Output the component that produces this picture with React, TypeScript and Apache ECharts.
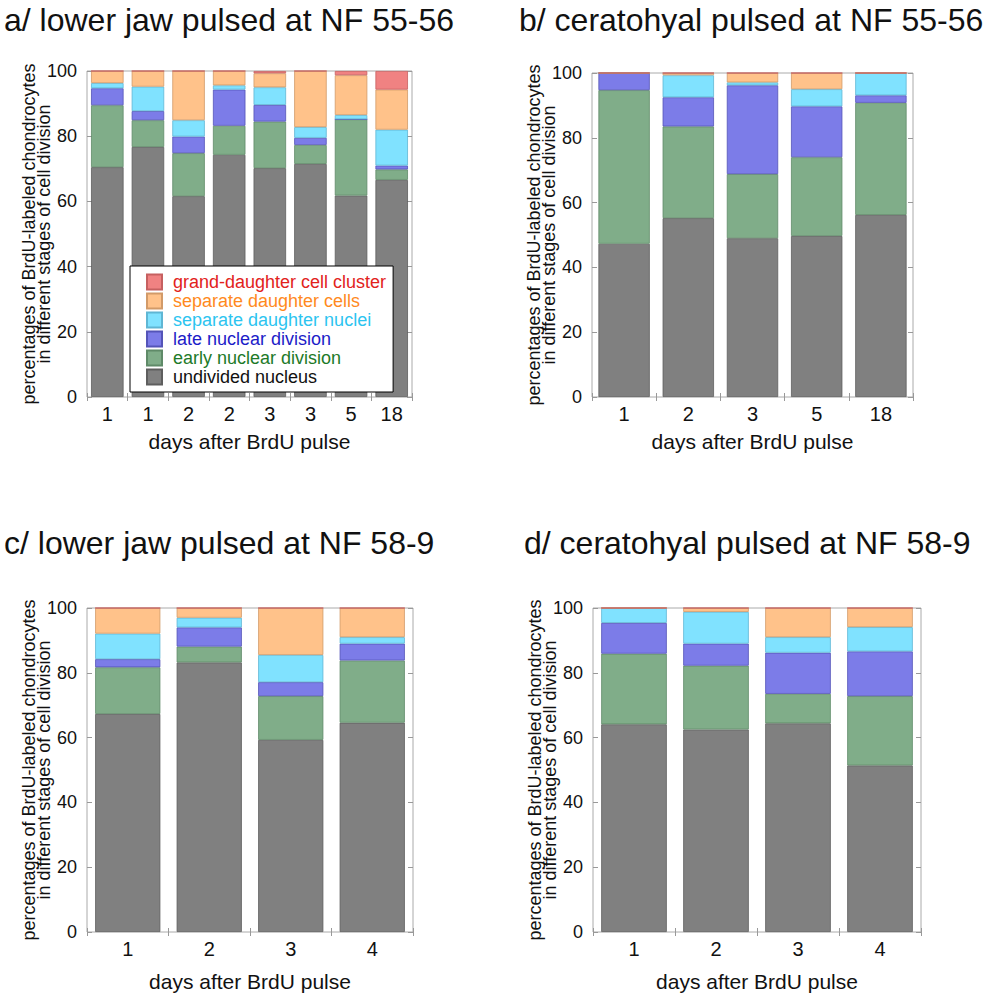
import React, { useEffect, useRef } from "react";
import * as echarts from "echarts";

const SERIES_NAMES = [
  "undivided nucleus",
  "early nuclear division",
  "late nuclear division",
  "separate daughter nuclei",
  "separate daughter cells",
  "grand-daughter cell cluster",
];
const COLORS = ["#808080", "#80ad89", "#7c7ce8", "#80e2ff", "#ffc28a", "#f08282"];
const BORDERS = ["#5e5e5e", "#5f8a68", "#5454b8", "#5fb6d4", "#d29a68", "#c66060"];
const LEGEND_TEXT = ["#111111", "#1d7a28", "#1c1cc8", "#2cc4f0", "#ff8a1e", "#e2221c"];

// Panel a: lower jaw pulsed at NF 55-56
const catsA = ["1", "1", "2", "2", "3", "3", "5", "18"];
const undividedA = [70.5, 76.7, 61.6, 74.3, 70.2, 71.5, 61.8, 66.6];
const earlyA = [19.0, 8.2, 13.2, 8.9, 14.3, 5.8, 23.4, 3.2];
const lateA = [5.2, 2.8, 5.1, 11.1, 5.1, 2.2, 0, 1.2];
const nucleiA = [1.6, 7.5, 5.0, 1.3, 5.4, 3.3, 1.3, 11.0];
const cellsA = [3.7, 4.8, 15.1, 4.4, 4.3, 17.2, 12.2, 12.3];
const clusterA = [0, 0, 0, 0, 0.7, 0, 1.3, 5.7];

// Panel b: ceratohyal pulsed at NF 55-56
const catsB = ["1", "2", "3", "5", "18"];
const undividedB = [47.3, 55.2, 49.0, 49.7, 56.2];
const earlyB = [47.4, 28.3, 19.8, 24.3, 34.6];
const lateB = [5.3, 9.0, 27.4, 15.7, 2.3];
const nucleiB = [0, 6.8, 0.9, 5.3, 6.9];
const cellsB = [0, 0.7, 2.9, 5.0, 0];
const clusterB = [0, 0, 0, 0, 0];

// Panel c: lower jaw pulsed at NF 58-9
const catsC = ["1", "2", "3", "4"];
const undividedC = [67.3, 83.2, 59.3, 64.6];
const earlyC = [14.4, 4.9, 13.5, 19.2];
const lateC = [2.5, 5.9, 4.3, 5.2];
const nucleiC = [7.9, 3.0, 8.4, 2.0];
const cellsC = [7.9, 3.0, 14.5, 9.0];
const clusterC = [0, 0, 0, 0];

// Panel d: ceratohyal pulsed at NF 58-9
const catsD = ["1", "2", "3", "4"];
const undividedD = [64.1, 62.5, 64.4, 51.4];
const earlyD = [21.8, 19.7, 9.1, 21.4];
const lateD = [9.5, 6.8, 12.7, 13.8];
const nucleiD = [4.6, 9.8, 4.8, 7.5];
const cellsD = [0, 1.2, 9.0, 5.9];
const clusterD = [0, 0, 0, 0];

const TITLES = [
  "a/ lower jaw pulsed at NF 55-56",
  "b/ ceratohyal pulsed at NF 55-56",
  "c/ lower jaw pulsed at NF 58-9",
  "d/ ceratohyal pulsed at NF 58-9",
];
const Y_TICKS = [0, 20, 40, 60, 80, 100];
const Y_NAME = "percentages of BrdU-labeled chondrocytes\nin different stages of cell division";
const X_NAME = "days after BrdU pulse";

const PANELS = [
  { cats: catsA, data: [undividedA, earlyA, lateA, nucleiA, cellsA, clusterA] },
  { cats: catsB, data: [undividedB, earlyB, lateB, nucleiB, cellsB, clusterB] },
  { cats: catsC, data: [undividedC, earlyC, lateC, nucleiC, cellsC, clusterC] },
  { cats: catsD, data: [undividedD, earlyD, lateD, nucleiD, cellsD, clusterD] },
];

const GRIDS = [
  { left: 87, top: 71, width: 325, height: 326 },
  { left: 592, top: 73, width: 321, height: 324 },
  { left: 87, top: 608, width: 326, height: 327 },
  { left: 593, top: 608, width: 328, height: 327 },
];
const TITLE_POS = [
  { left: 4, top: 4 },
  { left: 519, top: 4 },
  { left: 4, top: 527 },
  { left: 524, top: 527 },
];
const X_NAME_GAP = [34, 34, 39, 39];

const FONT = "'Liberation Sans', Arial, Helvetica, sans-serif";

export default function App() {
  const ref = useRef<HTMLDivElement>(null);
  useEffect(() => {
    if (!ref.current) return;
    const chart = echarts.init(ref.current, null, { renderer: "svg" });

    const xAxis: any[] = [];
    const yAxis: any[] = [];
    const series: any[] = [];

    PANELS.forEach((p, i) => {
      xAxis.push({
        type: "category",
        gridIndex: i,
        data: p.cats,
        position: "bottom",
        axisLine: { show: false },
        axisTick: { show: true, inside: true, length: 4, lineStyle: { color: "#999" } },
        axisLabel: { fontSize: 20, color: "#111", margin: 7, fontFamily: FONT },
        name: X_NAME,
        nameLocation: "middle",
        nameGap: X_NAME_GAP[i],
        nameMoveOverlap: false,
        nameTextStyle: { fontSize: 21, color: "#111", fontFamily: FONT },
      });
      xAxis.push({
        type: "category",
        gridIndex: i,
        data: p.cats,
        position: "top",
        axisLine: { show: false },
        axisTick: { show: true, inside: true, length: 4, lineStyle: { color: "#999" } },
        axisLabel: { show: false },
      });
      yAxis.push({
        type: "value",
        gridIndex: i,
        min: Y_TICKS[0],
        max: Y_TICKS[Y_TICKS.length - 1],
        interval: 20,
        position: "left",
        axisLine: { show: false },
        splitLine: { show: false },
        axisTick: { show: true, inside: true, length: 5, lineStyle: { color: "#999" } },
        axisLabel: { fontSize: 18, color: "#111", margin: 10, fontFamily: FONT },
        name: Y_NAME,
        nameLocation: "middle",
        nameRotate: 90,
        nameGap: 36,
        nameMoveOverlap: false,
        nameTextStyle: { fontSize: 18, lineHeight: 15, color: "#111", fontFamily: FONT, align: "center" },
      });
      yAxis.push({
        type: "value",
        gridIndex: i,
        min: Y_TICKS[0],
        max: Y_TICKS[Y_TICKS.length - 1],
        interval: 20,
        position: "right",
        axisLine: { show: false },
        splitLine: { show: false },
        axisTick: { show: true, inside: true, length: 5, lineStyle: { color: "#999" } },
        axisLabel: { show: false },
      });
      SERIES_NAMES.forEach((name, k) => {
        series.push({
          type: "bar",
          name,
          xAxisIndex: i * 2,
          yAxisIndex: i * 2,
          stack: "panel" + i,
          data: p.data[k],
          barCategoryGap: "20%",
          itemStyle: { color: COLORS[k], borderColor: BORDERS[k], borderWidth: 0.8 },
          emphasis: { disabled: true },
        });
      });
    });

    const legendData = SERIES_NAMES.map((name, k) => ({
      name,
      textStyle: { color: LEGEND_TEXT[k] },
    })).reverse();

    chart.setOption({
      animation: false,
      textStyle: { fontFamily: FONT },
      title: TITLES.map((t, i) => ({
        text: t,
        left: TITLE_POS[i].left,
        top: TITLE_POS[i].top,
        padding: 0,
        textStyle: { fontSize: 32, fontWeight: "normal", color: "#111", fontFamily: FONT },
      })),
      grid: GRIDS.map((g) => ({ ...g, show: true, borderColor: "#aaa", borderWidth: 1, backgroundColor: "transparent" })),
      legend: {
        orient: "vertical",
        left: 130,
        top: 266,
        data: legendData,
        itemWidth: 15,
        itemHeight: 15,
        itemGap: 1,
        padding: [7, 7, 6, 16],
        borderColor: "#000",
        borderWidth: 1,
        backgroundColor: "#fff",
        selectedMode: false,
        icon: "rect",
        textStyle: { fontSize: 18, lineHeight: 15, fontFamily: FONT, padding: [0, 0, 0, 6] },
      },
      xAxis,
      yAxis,
      series,
    });
    return () => chart.dispose();
  }, []);
  return (
    <div
      ref={ref}
      style={{ position: "absolute", left: 0, top: 0, width: 993, height: 993, background: "#fff" }}
    />
  );
}
